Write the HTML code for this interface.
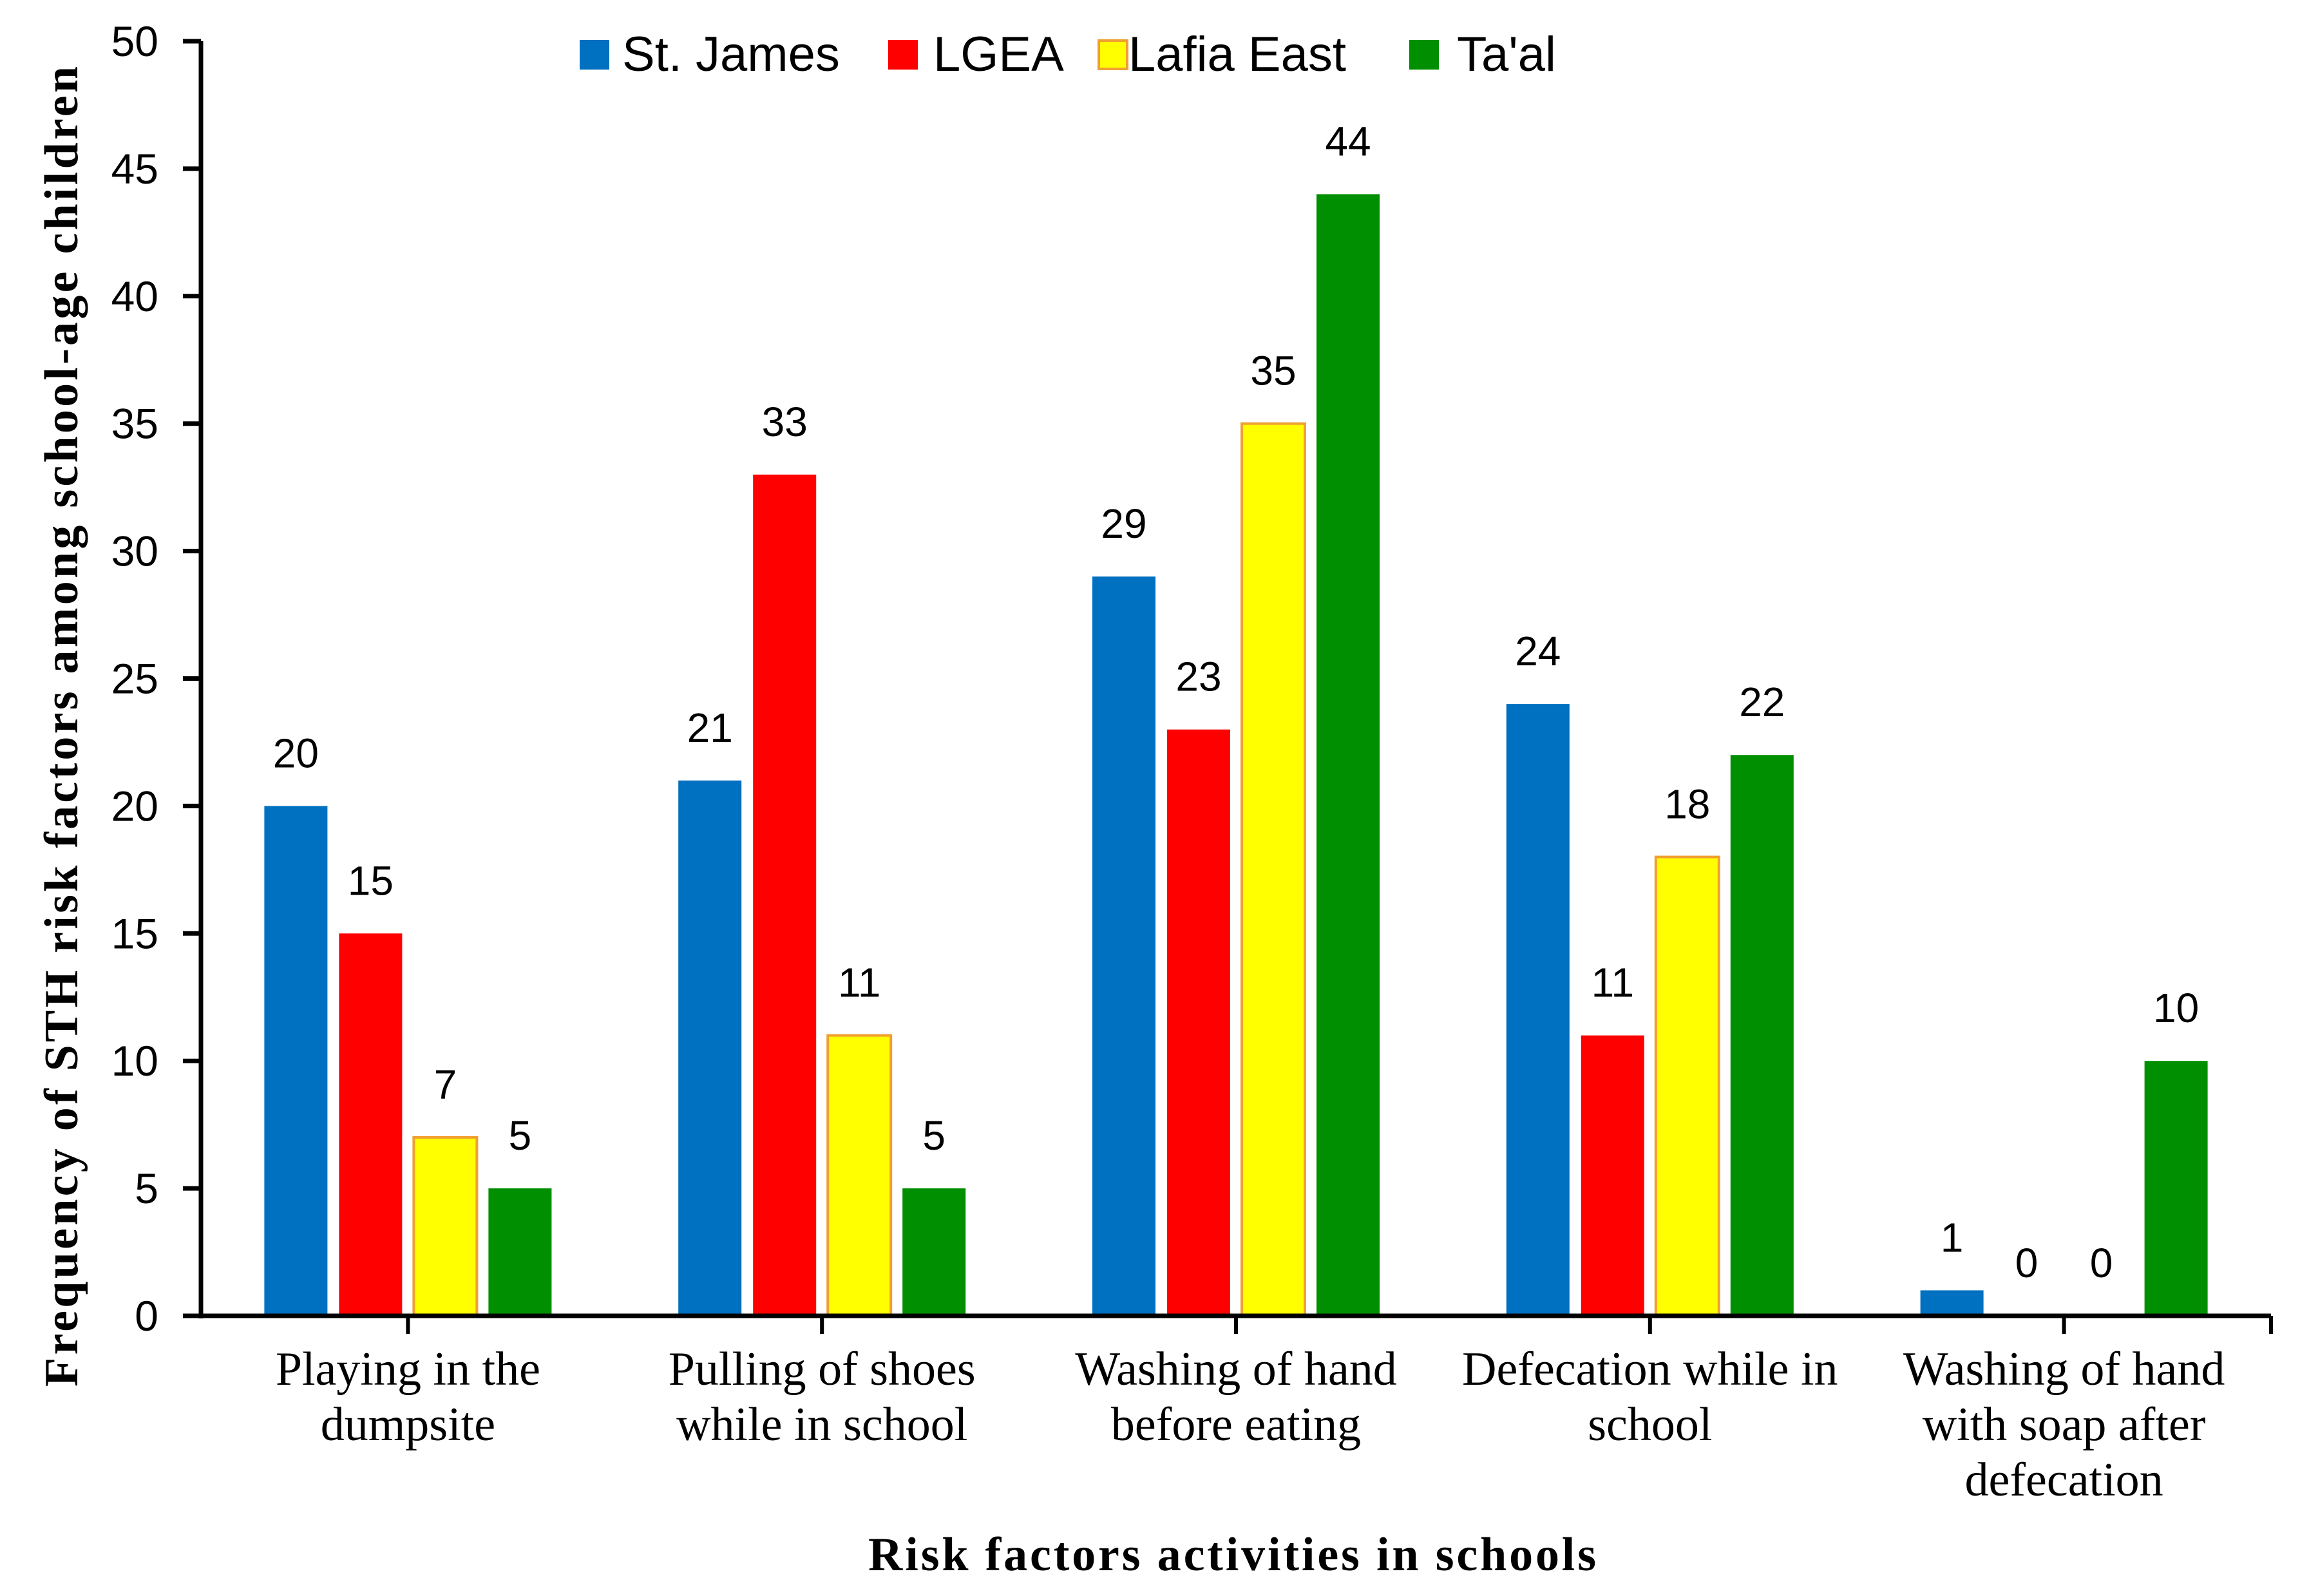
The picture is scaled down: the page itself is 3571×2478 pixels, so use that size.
<!DOCTYPE html>
<html><head><meta charset="utf-8"><style>
body{margin:0;background:#fff;}
svg{display:block;}
</style></head><body>
<svg id="chart" width="3571" height="2478" viewBox="0 0 3571 2478" xmlns="http://www.w3.org/2000/svg">
<g id="legend" font-family="Liberation Sans, sans-serif" font-size="76" fill="#000">
  <g><rect x="900" y="62" width="46" height="46" fill="#0070C0"/><text x="966" y="110">St. James</text></g>
  <g><rect x="1379" y="62" width="46" height="46" fill="#FF0000"/><text x="1449" y="110">LGEA</text></g>
  <g><rect x="1706" y="63" width="44" height="44" fill="#FFFF00" stroke="#F0A030" stroke-width="4"/><text x="1752" y="110">Lafia East</text></g>
  <g><rect x="2188" y="62" width="46" height="46" fill="#008F00"/><text x="2262" y="110">Ta'al</text></g>
</g>
<g id="plot"></g>
<text transform="translate(120,1128) rotate(-90)" text-anchor="middle" font-family="Liberation Serif, serif" font-weight="bold" font-size="74" textLength="2050" lengthAdjust="spacing">Frequency  of  STH  risk  factors  among  school-age  children</text>
<text x="1913" y="2438" text-anchor="middle" font-family="Liberation Serif, serif" font-weight="bold" font-size="74" textLength="1130" lengthAdjust="spacing">Risk factors  activities  in  schools</text>
</svg>
<script>
const categories=[["Playing in the","dumpsite"],["Pulling of shoes","while in school"],["Washing of hand","before eating"],["Defecation while in","school"],["Washing of hand","with soap after","defecation"]];
const stJames=[20,21,29,24,1];
const lgea=[15,33,23,11,0];
const lafiaEast=[7,11,35,18,0];
const taal=[5,5,44,22,10];
const yTicks=[0,5,10,15,20,25,30,35,40,45,50];
const seriesNames=["st-james","lgea","lafia-east","taal"];
const series=[stJames,lgea,lafiaEast,taal];
const colors=["#0070C0","#FF0000","#FFFF00","#008F00"];
const NS="http://www.w3.org/2000/svg";
const x0=312,x1=3526,y0=2043,yTop=64,yMax=50;
const cw=(x1-x0)/categories.length;
function ys(v){return y0-(v/yMax)*(y0-yTop);}
function xc(i){return x0+cw*(i+0.5);}
const plot=document.getElementById('plot');
function mk(tag,attrs,parent){const e=document.createElementNS(NS,tag);for(const k in attrs)e.setAttribute(k,attrs[k]);(parent||plot).appendChild(e);return e;}
const bw=98,step=116;
series.forEach((s,si)=>{
  s.forEach((v,i)=>{
    const cx=xc(i)+(si-1.5)*step;
    if(v>0){
      const r=mk('rect',{x:cx-bw/2,y:ys(v),width:bw,height:ys(0)-ys(v),fill:colors[si]});
      if(si===2){r.setAttribute('stroke','#F0A030');r.setAttribute('stroke-width','4');}
      
      
    }
    const t=mk('text',{x:cx,y:ys(v)-60,'text-anchor':'middle','font-family':'Liberation Sans, sans-serif','font-size':'64'});
    t.textContent=v;
    
    
  });
});
const ya=mk('line',{x1:x0,y1:yTop,x2:x0,y2:y0+4,stroke:'#000','stroke-width':'7'});


yTicks.forEach(v=>{
  mk('line',{x1:284,y1:ys(v),x2:x0,y2:ys(v),stroke:'#000','stroke-width':'7'});
  const t=mk('text',{x:246,y:ys(v)+23,'text-anchor':'end','font-family':'Liberation Sans, sans-serif','font-size':'66'});
  t.textContent=v;
  
  
});
const xa=mk('line',{x1:284,y1:y0,x2:x1,y2:y0,stroke:'#000','stroke-width':'7'});


mk('line',{x1:x1,y1:y0,x2:x1,y2:y0+28,stroke:'#000','stroke-width':'6'});
categories.forEach((lines,i)=>{
  mk('line',{x1:xc(i),y1:y0,x2:xc(i),y2:y0+28,stroke:'#000','stroke-width':'6'});
  const t=mk('text',{'text-anchor':'middle','font-family':'Liberation Serif, serif','font-size':'74'});
  
  
  lines.forEach((ln,li)=>{const sp=mk('tspan',{x:xc(i),y:2150+li*86},t);sp.textContent=ln;});
});
</script>
</body></html>
